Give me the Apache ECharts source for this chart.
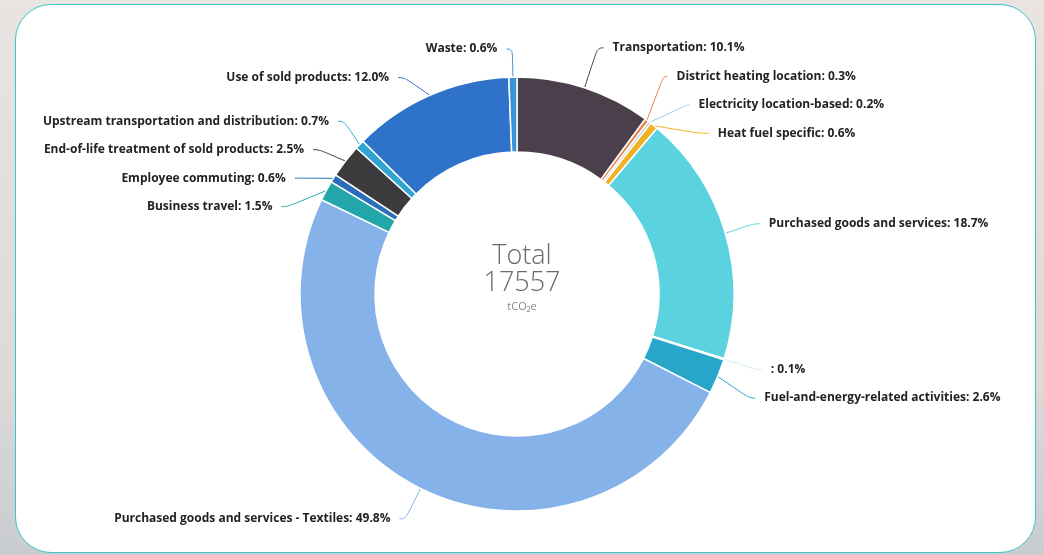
<!DOCTYPE html>
<html>
<head>
<meta charset="utf-8">
<script src="https://cdn.jsdelivr.net/npm/echarts@6/dist/echarts.min.js"></script>
<style>
  html, body {
    margin: 0;
    padding: 0;
    width: 1044px;
    height: 555px;
    overflow: hidden;
    background: linear-gradient(180deg, #e9e4e2 0%, #dcd9d8 70%, #c9ccd0 100%);
  }
  .card {
    position: absolute;
    left: 15px;
    top: 4px;
    width: 1019px;
    height: 547px;
    background: #fff;
    border: 1.5px solid #3ec4c6;
    border-radius: 36px;
  }
  #main {
    position: absolute;
    left: 0;
    top: 0;
    width: 1044px;
    height: 555px;
  }
</style>
</head>
<body>
<div class="card"></div>
<div id="main"></div>
<script>
// scope 1-3 breakdown, share of total in %
const names = [
  'Transportation',
  'District heating location',
  'Electricity location-based',
  'Heat fuel specific',
  'Purchased goods and services',
  '',
  'Fuel-and-energy-related activities',
  'Purchased goods and services - Textiles',
  'Business travel',
  'Employee commuting',
  'End-of-life treatment of sold products',
  'Upstream transportation and distribution',
  'Use of sold products',
  'Waste'
];
const shares = [10.1, 0.3, 0.2, 0.6, 18.7, 0.1, 2.6, 49.8, 1.5, 0.6, 2.5, 0.7, 12.0, 0.6];
const colors = [
  '#4b3f4c', '#ee7f45', '#9ccbe8', '#f0b125', '#5bd2df', '#d3eef2', '#27a6c9',
  '#85b2e9', '#23a6a9', '#2a6db8', '#3b3b3e', '#2ea5d2', '#2e72c9', '#3b90d8'
];
const total = 17557;

// some slices get their own connector lengths
const lineTweaks = {
  0: { length: 42, length2: 6 },
  1: { length: 58, length2: 4 },
  2: { length: 38, length2: 2 },
  3: { length: 20, length2: 10 },
  13: { length: 28, length2: 6 }
};

const chart = echarts.init(document.getElementById('main'));
chart.setOption({
  animation: false,
  color: colors,
  graphic: [
    {
      type: 'text',
      left: 'center',
      top: 243,
      style: { text: 'Total', fontFamily: 'Open Sans', fontSize: 27, fill: '#6a6a6a', fontWeight: 300 }
    },
    {
      type: 'text',
      left: 'center',
      top: 270,
      style: { text: String(total), fontFamily: 'Open Sans', fontSize: 27, fill: '#6a6a6a', fontWeight: 300 }
    },
    {
      type: 'text',
      left: 'center',
      top: 301,
      style: { text: 'tCO₂e', fontFamily: 'Open Sans', fontSize: 11, fill: '#888' }
    }
  ],
  series: [
    {
      type: 'pie',
      center: [517, 294],
      radius: [142, 217],
      startAngle: 90,
      clockwise: true,
      avoidLabelOverlap: true,
      itemStyle: { borderColor: '#fff', borderWidth: 1.5 },
      label: {
        formatter: p => p.name + ': ' + p.value.toFixed(1) + '%',
        fontFamily: 'Open Sans',
        fontWeight: 'bold',
        fontSize: 12,
        color: '#222',
        lineHeight: 26.5,
        padding: [0, 4]
      },
      labelLine: { length: 34, length2: 6, smooth: 0.5, lineStyle: { width: 1 } },
      data: names.map((n, i) => {
        const d = { name: n, value: shares[i] };
        if (lineTweaks[i]) d.labelLine = lineTweaks[i];
        return d;
      })
    }
  ]
});
</script>
</body>
</html>
